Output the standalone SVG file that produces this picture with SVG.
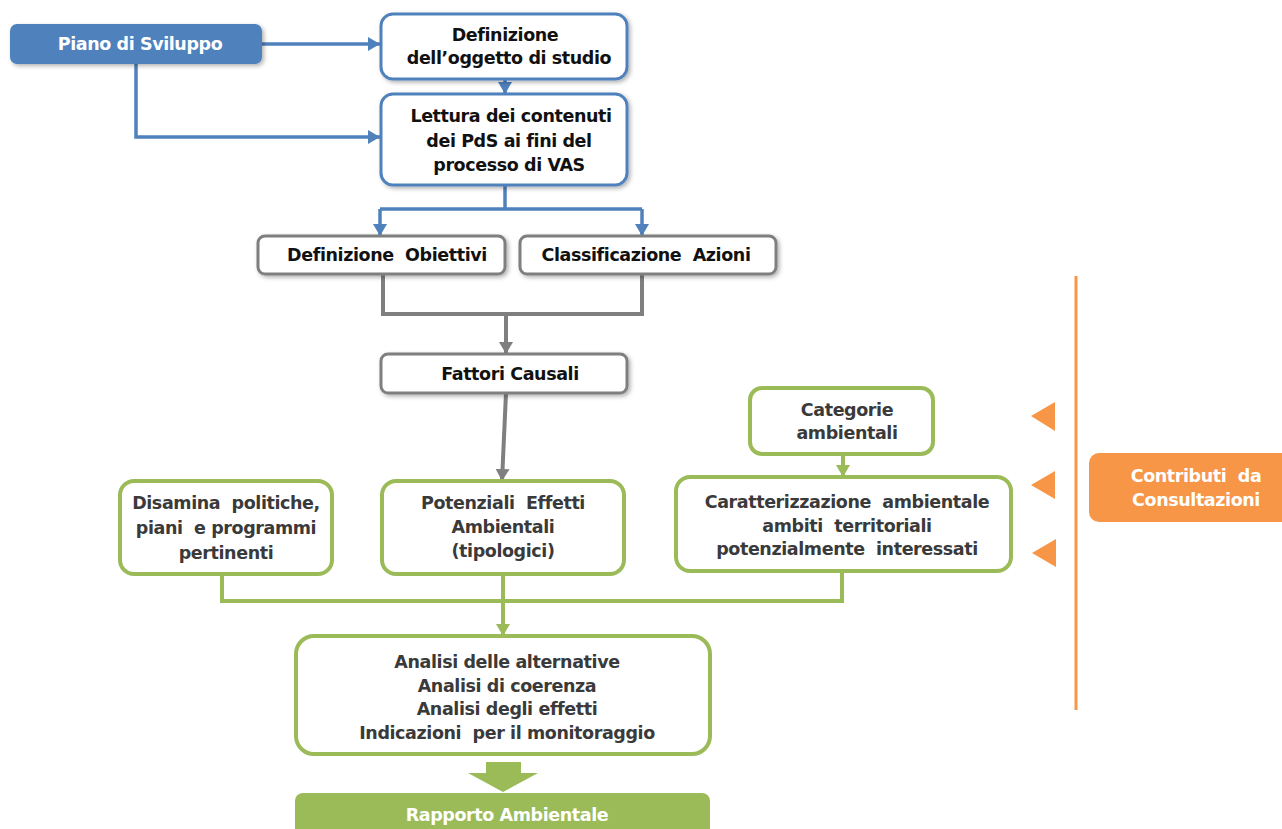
<svg xmlns="http://www.w3.org/2000/svg" width="1282" height="829" viewBox="0 0 1282 829">
<style>
  text { font-family: "DejaVu Sans", Verdana, sans-serif; font-weight: bold; font-size: 17.5px; text-anchor: middle; white-space: pre; letter-spacing: -0.4px; }
  .dark { fill: #111; }
  .gtxt { fill: #3a3a3a; }
  .wtxt { fill: #fff; }
  .bbox { fill: #fff; stroke: #4f81bd; stroke-width: 3; }
  .gbox { fill: #fff; stroke: #7f7f7f; stroke-width: 3; }
  .grbox { fill: #fff; stroke: #9bbb59; stroke-width: 4; }
  .bl { fill: none; stroke: #4f81bd; stroke-width: 3.5; }
  .gl { fill: none; stroke: #7f7f7f; stroke-width: 4; }
  .grl { fill: none; stroke: #9bbb59; stroke-width: 4; }
</style>
<defs>
  <filter id="sh" x="-10%" y="-10%" width="125%" height="140%">
    <feDropShadow dx="2" dy="2" stdDeviation="2" flood-color="#000" flood-opacity="0.3"/>
  </filter>
  <marker id="ab" markerUnits="userSpaceOnUse" markerWidth="14" markerHeight="14" refX="12" refY="7" orient="auto">
    <path d="M0,0 L12,7 L0,14 Z" fill="#4f81bd"/>
  </marker>
  <marker id="ag" markerUnits="userSpaceOnUse" markerWidth="14" markerHeight="14" refX="12" refY="7" orient="auto">
    <path d="M0,0 L12,7 L0,14 Z" fill="#7f7f7f"/>
  </marker>
  <marker id="agr" markerUnits="userSpaceOnUse" markerWidth="14" markerHeight="14" refX="12" refY="7" orient="auto">
    <path d="M0,0 L12,7 L0,14 Z" fill="#9bbb59"/>
  </marker>
</defs>

<g id="connectors">
  <path class="bl" d="M262,44 H380" marker-end="url(#ab)"/>
  <path class="bl" d="M136,64 V137 H380" marker-end="url(#ab)"/>
  <path class="bl" d="M505,79 V94" marker-end="url(#ab)"/>
  <path class="bl" d="M505,185 V209"/>
  <path class="bl" d="M380,209 H642"/>
  <path class="bl" d="M380,209 V236" marker-end="url(#ab)"/>
  <path class="bl" d="M642,209 V236" marker-end="url(#ab)"/>
  <path class="gl" d="M383,274 V314 H642 V274"/>
  <path class="gl" d="M506,314 V354" marker-end="url(#ag)"/>
  <path class="gl" d="M506,393 L502,481" marker-end="url(#ag)"/>
  <path class="grl" d="M843,454 V477" marker-end="url(#agr)"/>
  <path class="grl" d="M222,574 V601 H842 V571"/>
  <path class="grl" d="M503,574 V636" marker-end="url(#agr)"/>
  <path d="M486,762 H521 V773 H538 L503,792 L468,773 H486 Z" fill="#9bbb59"/>
  <line x1="1076" y1="276" x2="1076" y2="710" stroke="#f79646" stroke-width="3"/>
  <path d="M1055,402 L1031,416 L1055,431 Z" fill="#f79646"/>
  <path d="M1055,471 L1031,485 L1055,499 Z" fill="#f79646"/>
  <path d="M1056,539 L1032,553 L1056,567 Z" fill="#f79646"/>
</g>

<g id="piano">
  <rect x="10" y="24" width="252" height="40" rx="7" fill="#4f81bd" filter="url(#sh)"/>
  <text class="wtxt" x="140" y="50">Piano di Sviluppo</text>
</g>
<g id="definizione">
  <rect class="bbox" x="381" y="14" width="246" height="65" rx="12" filter="url(#sh)"/>
  <text class="dark" x="505" y="41">Definizione</text>
  <text class="dark" x="509" y="64">dell’oggetto di studio</text>
</g>
<g id="lettura">
  <rect class="bbox" x="381" y="94" width="246" height="91" rx="12" filter="url(#sh)"/>
  <text class="dark" x="511" y="122">Lettura dei contenuti</text>
  <text class="dark" x="509" y="147">dei PdS ai fini del</text>
  <text class="dark" x="509" y="171">processo di VAS</text>
</g>
<g id="obiettivi">
  <rect class="gbox" x="258" y="236" width="247" height="38" rx="7" filter="url(#sh)"/>
  <text class="dark" x="387" y="261">Definizione  Obiettivi</text>
</g>
<g id="azioni">
  <rect class="gbox" x="520" y="236" width="256" height="38" rx="7" filter="url(#sh)"/>
  <text class="dark" x="646" y="261">Classificazione  Azioni</text>
</g>
<g id="fattori">
  <rect class="gbox" x="381" y="354" width="246" height="39" rx="7" filter="url(#sh)"/>
  <text class="dark" x="510" y="380">Fattori Causali</text>
</g>
<g id="disamina">
  <rect class="grbox" x="120" y="481" width="212" height="93" rx="14"/>
  <text class="gtxt" x="226" y="509">Disamina  politiche,</text>
  <text class="gtxt" x="226" y="534">piani  e programmi</text>
  <text class="gtxt" x="226" y="559">pertinenti</text>
</g>
<g id="potenziali">
  <rect class="grbox" x="382" y="481" width="242" height="93" rx="14"/>
  <text class="gtxt" x="503" y="509">Potenziali  Effetti</text>
  <text class="gtxt" x="503" y="533">Ambientali</text>
  <text class="gtxt" x="503" y="557">(tipologici)</text>
</g>
<g id="categorie">
  <rect class="grbox" x="750" y="388" width="183" height="66" rx="12"/>
  <text class="gtxt" x="847" y="416">Categorie</text>
  <text class="gtxt" x="847" y="439">ambientali</text>
</g>
<g id="caratterizzazione">
  <rect class="grbox" x="676" y="477" width="335" height="94" rx="14"/>
  <text class="gtxt" x="847" y="508">Caratterizzazione  ambientale</text>
  <text class="gtxt" x="847" y="532">ambiti  territoriali</text>
  <text class="gtxt" x="847" y="555">potenzialmente  interessati</text>
</g>
<g id="analisi">
  <rect class="grbox" x="296" y="636" width="414" height="118" rx="18"/>
  <text class="gtxt" x="507" y="668">Analisi delle alternative</text>
  <text class="gtxt" x="507" y="692">Analisi di coerenza</text>
  <text class="gtxt" x="507" y="715">Analisi degli effetti</text>
  <text class="gtxt" x="507" y="739">Indicazioni  per il monitoraggio</text>
</g>
<g id="rapporto">
  <rect x="295" y="793" width="415" height="50" rx="8" fill="#9bbb59"/>
  <text class="wtxt" x="507" y="821">Rapporto Ambientale</text>
</g>
<g id="contributi">
  <rect x="1089" y="453" width="210" height="69" rx="10" fill="#f79646"/>
  <text class="wtxt" x="1196" y="482">Contributi  da</text>
  <text class="wtxt" x="1196" y="506">Consultazioni</text>
</g>
</svg>
